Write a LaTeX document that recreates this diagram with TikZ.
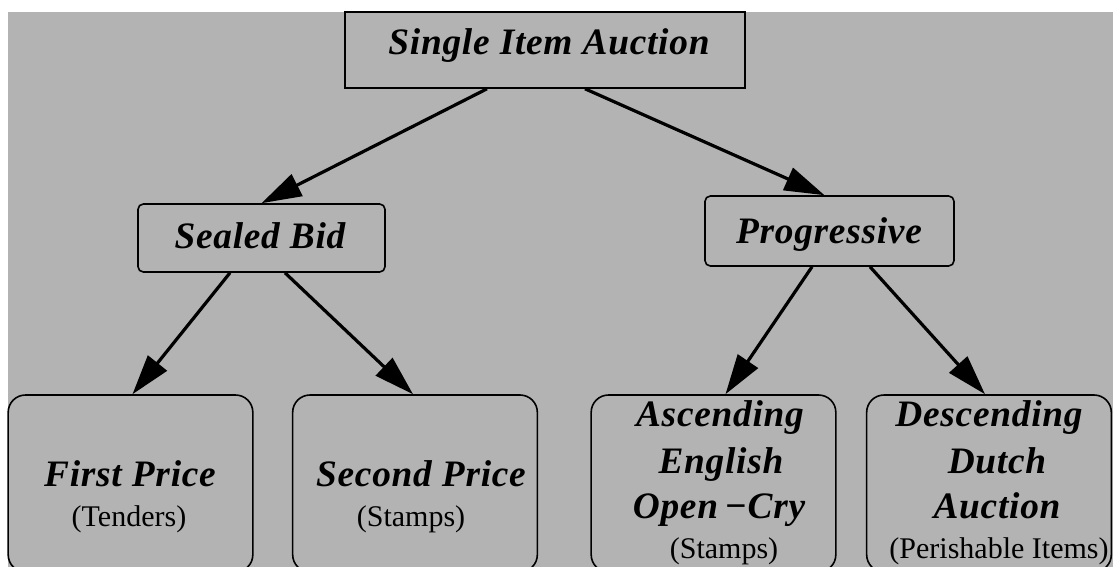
\documentclass[tikz,border=0pt]{standalone}
\usepackage{fontspec}
\setmainfont{Liberation Serif}
\usetikzlibrary{arrows.meta,calc}
\definecolor{panel}{RGB}{179,179,179}
\begin{document}
\begin{tikzpicture}[x=0.75pt,y=-0.75pt,
  box/.style={draw=black,line width=1.2pt,rectangle,inner sep=0pt},
  smallbox/.style={box,rounded corners=4pt},
  leafbox/.style={box,rounded corners=13pt,minimum width=183.5pt,minimum height=132.75pt},
  title/.style={font=\fontsize{28}{30}\selectfont\addfontfeatures{LetterSpace=2}\bfseries\itshape,anchor=base,inner sep=0pt},
  note/.style={font=\fontsize{22.5}{26}\selectfont,anchor=base,inner sep=0pt},
  arr/.style={line width=2.4pt,-{Triangle[length=30pt,width=18pt]}}]
\useasboundingbox (0,0) rectangle (1113,567);
\clip (0,0) rectangle (1113,567);
\fill[panel] (8,12) rectangle (1113,567);

% boxes
\node[box,minimum width=300pt,minimum height=57pt] (top) at (545,50) {};
\node[smallbox,minimum width=185.25pt,minimum height=51pt] (sb) at (261.5,238) {};
\node[smallbox,minimum width=186.75pt,minimum height=52.5pt] (pg) at (829.5,231) {};
\node[leafbox] (fp) at (130.5,483.5) {};
\node[leafbox] (sp) at (415,483.5) {};
\node[leafbox] (as) at (713.5,483.5) {};
\node[leafbox] (ds) at (989,483.5) {};

% labels
\node[title] (topt) at (549,55) {Single Item Auction};
\node[title] (sbt) at (260,248) {Sealed Bid};
\node[title] (pgt) at (829,243) {Progressive};
\node[title] (fpt) at (130,486) {First Price};
\node[note] (fpn) at (129,526) {(Tenders)};
\node[title] (spt) at (421,486) {Second Price};
\node[note] (spn) at (411,526) {(Stamps)};
\node[title] (as1) at (720,426) {Ascending};
\node[title] (as2) at (721,473) {English};
\node[title] (as3) at (719,518) {Open\,−Cry};
\node[note] (asn) at (724,558) {(Stamps)};
\node[title] (ds1) at (989,426) {Descending};
\node[title] (ds2) at (997,473) {Dutch};
\node[title] (ds3) at (997,518) {Auction};
\node[note] (dsn) at (999,558) {(Perishable Items)};

% connectors
\draw[arr] ($(top.south)+(-58,0)$) -- (sb.north);
\draw[arr] ($(top.south)+(40,0)$) -- ($(pg.north)+(-5,0)$);
\draw[arr] ($(sb.south)+(-31.5,0)$) -- ($(fp.north)+(2,0)$);
\draw[arr] ($(sb.south)+(23.5,0)$) -- ($(sp.north)+(-2,0)$);
\draw[arr] ($(pg.south)+(-17.5,0)$) -- ($(as.north)+(12,0)$);
\draw[arr] ($(pg.south)+(40.5,0)$) -- ($(ds.north)+(-4,0)$);
\end{tikzpicture}
\end{document}
